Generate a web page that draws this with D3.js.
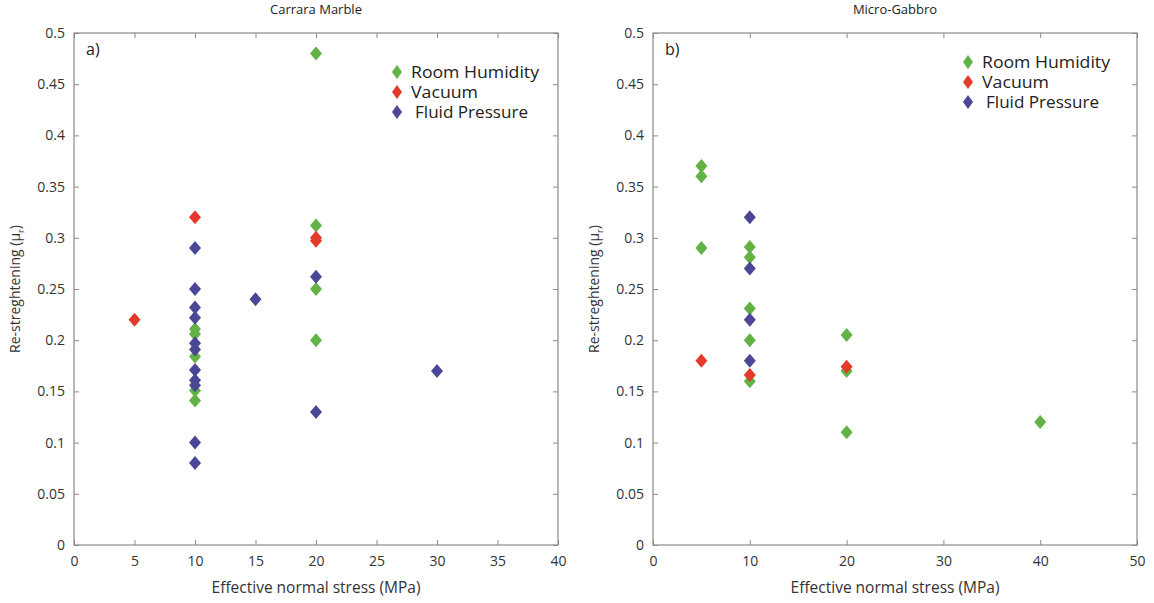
<!DOCTYPE html>
<html><head><meta charset="utf-8">
<script src="https://cdn.jsdelivr.net/npm/d3@7"></script>
<style>
html,body{margin:0;padding:0;background:#fff;}
svg text{font-family:"Open Sans","Liberation Sans",sans-serif;}
</style></head>
<body><svg id="c" width="1154" height="603"></svg>
<script>
// ---- data ----
const seriesNames = ["Room Humidity", "Vacuum", "Fluid Pressure"];
const seriesColors = ["#62b245", "#e43a2b", "#4b4796"];
const yTicks = [0, 0.05, 0.1, 0.15, 0.2, 0.25, 0.3, 0.35, 0.4, 0.45, 0.5];
const yTickLabels = ["0", "0.05", "0.1", "0.15", "0.2", "0.25", "0.3", "0.35", "0.4", "0.45", "0.5"];
const marbleXTicks = [0, 5, 10, 15, 20, 25, 30, 35, 40];
const gabbroXTicks = [0, 10, 20, 30, 40, 50];

// Carrara Marble
const marbleHumidity = [
  {x:20,y:0.48},{x:20,y:0.312},{x:20,y:0.25},{x:20,y:0.2},
  {x:10,y:0.211},{x:10,y:0.206},{x:10,y:0.184},{x:10,y:0.151},{x:10,y:0.141}
];
const marbleVacuum = [
  {x:5,y:0.22},{x:10,y:0.32},{x:20,y:0.3},{x:20,y:0.297}
];
const marbleFluid = [
  {x:10,y:0.29},{x:10,y:0.25},{x:10,y:0.232},{x:10,y:0.222},{x:10,y:0.197},{x:10,y:0.191},
  {x:10,y:0.171},{x:10,y:0.161},{x:10,y:0.156},{x:10,y:0.1},{x:10,y:0.08},
  {x:15,y:0.24},{x:20,y:0.262},{x:20,y:0.13},{x:30,y:0.17}
];
// Micro-Gabbro
const gabbroHumidity = [
  {x:5,y:0.37},{x:5,y:0.36},{x:5,y:0.29},
  {x:10,y:0.291},{x:10,y:0.281},{x:10,y:0.231},{x:10,y:0.2},{x:10,y:0.16},
  {x:20,y:0.205},{x:20,y:0.17},{x:20,y:0.11},{x:40,y:0.12}
];
const gabbroVacuum = [
  {x:5,y:0.18},{x:10,y:0.166},{x:20,y:0.174}
];
const gabbroFluid = [
  {x:10,y:0.32},{x:10,y:0.27},{x:10,y:0.22},{x:10,y:0.18}
];

const svg = d3.select("#c");
const diamond = (hw, hh) => `M0,${-hh}L${hw},0L0,${hh}L${-hw},0Z`;

function panel(opt) {
  const {left, right, top, bottom, xMax, xTicks, title, tag, series, legendX, legendY} = opt;
  const x = d3.scaleLinear().domain([0, xMax]).range([left, right]);
  const y = d3.scaleLinear().domain([0, 0.5]).range([bottom, top]);
  const g = svg.append("g");
  const axisColor = "#8a8a8a";
  const tl = 5;

  g.append("rect").attr("x", left).attr("y", top).attr("width", right - left).attr("height", bottom - top)
    .attr("fill", "none").attr("stroke", axisColor).attr("stroke-width", 1.2);

  const xa = d3.axisBottom(x).tickValues(xTicks).tickSizeInner(-tl).tickSizeOuter(0).tickPadding(11);
  const gx = g.append("g").attr("transform", `translate(0,${bottom})`).call(xa);
  const xt = d3.axisTop(x).tickValues(xTicks).tickSizeInner(-tl).tickSizeOuter(0).tickFormat("");
  const gxt = g.append("g").attr("transform", `translate(0,${top})`).call(xt);
  const ya = d3.axisLeft(y).tickValues(yTicks).tickFormat((d, i) => yTickLabels[i]).tickSizeInner(-tl).tickSizeOuter(0).tickPadding(9);
  const gy = g.append("g").attr("transform", `translate(${left},0)`).call(ya);
  const yr = d3.axisRight(y).tickValues(yTicks).tickSizeInner(-tl).tickSizeOuter(0).tickFormat("");
  const gyr = g.append("g").attr("transform", `translate(${right},0)`).call(yr);
  [gx, gxt, gy, gyr].forEach(a => {
    a.select(".domain").remove();
    a.selectAll(".tick line").attr("stroke", axisColor);
    a.selectAll(".tick text").attr("fill", "#333").attr("font-size", 14);
  });

  g.append("text").attr("x", (left + right) / 2).attr("y", 14).attr("text-anchor", "middle")
    .attr("font-size", 13).attr("fill", "#222").text(title);
  g.append("text").attr("x", left + 12).attr("y", top + 22).attr("font-size", 16).attr("fill", "#222").text(tag);
  g.append("text").attr("x", (left + right) / 2).attr("y", bottom + 48).attr("text-anchor", "middle")
    .attr("font-size", 15.5).attr("fill", "#333").text("Effective normal stress (MPa)");
  const yl = g.append("text").attr("transform", `translate(${left - 54},${(top + bottom) / 2}) rotate(-90)`)
    .attr("text-anchor", "middle").attr("font-size", 14).attr("fill", "#333");
  yl.append("tspan").text("Re-streghtening (\u03bc");
  yl.append("tspan").attr("font-size", 9).attr("dy", 4).text("r");
  yl.append("tspan").attr("dy", -4).text(")");

  series.forEach((data, si) => {
    g.append("g").selectAll("path").data(data).join("path")
      .attr("d", diamond(6, 7))
      .attr("transform", d => `translate(${x(d.x)},${y(d.y)})`)
      .attr("fill", seriesColors[si]);
  });

  seriesNames.forEach((n, i) => {
    const ly = legendY + i * 20;
    g.append("path").attr("d", diamond(5, 7)).attr("transform", `translate(${legendX},${ly})`).attr("fill", seriesColors[i]);
    g.append("text").attr("x", legendX + (i === 2 ? 18 : 14)).attr("y", ly + 6).attr("font-size", 16)
      .attr("textLength", [128, 67, 113][i]).attr("lengthAdjust", "spacingAndGlyphs")
      .attr("fill", "#222").text(n);
  });
}

panel({left: 74, right: 558, top: 33, bottom: 545, xMax: 40, xTicks: marbleXTicks,
  title: "Carrara Marble", tag: "a)", series: [marbleHumidity, marbleVacuum, marbleFluid],
  legendX: 397, legendY: 72});
panel({left: 653, right: 1137, top: 33, bottom: 545, xMax: 50, xTicks: gabbroXTicks,
  title: "Micro-Gabbro", tag: "b)", series: [gabbroHumidity, gabbroVacuum, gabbroFluid],
  legendX: 968, legendY: 62});
</script></body></html>
